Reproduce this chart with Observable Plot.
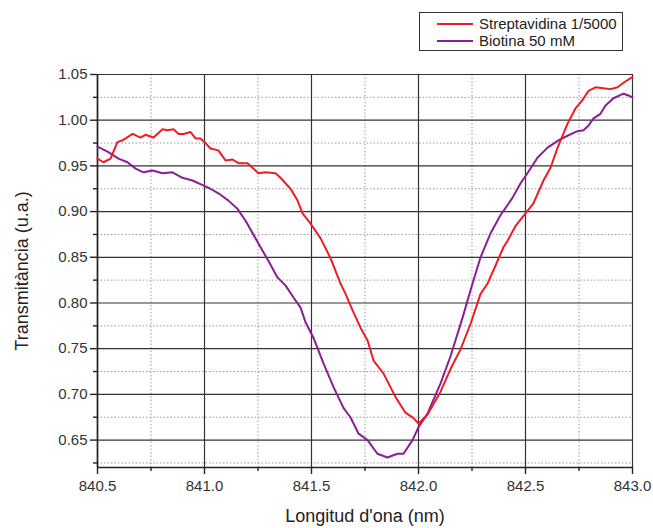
<!DOCTYPE html>
<html>
<head>
<meta charset="utf-8">
<script src="https://cdn.jsdelivr.net/npm/d3@7"></script>
<script src="https://cdn.jsdelivr.net/npm/@observablehq/plot@0.6"></script>
<style>
  html, body { margin: 0; padding: 0; background: #fff; }
  #wrap { position: relative; width: 653px; height: 528px; font-family: "Liberation Sans", Arial, sans-serif; }
  #legend { position: absolute; left: 419px; top: 12px; width: 204px; height: 39px; border: 1px solid #333; background: #fff; box-sizing: border-box; }
  .item { position: absolute; left: 17px; font-size: 15px; color: #222; line-height: 16px; display: flex; align-items: center; }
  .sw { display: inline-block; width: 36px; height: 2px; margin-right: 6px; }
</style>
</head>
<body>
<div id="wrap"></div>
<script>
// Series names
const seriesNames = ["Streptavidina 1/5000", "Biotina 50 mM"];
const seriesColors = ["#ee1c25", "#8b1d96"];

// Streptavidina 1/5000 (red)
const strepX = [840.500,840.528,840.561,840.593,840.617,840.664,840.701,840.724,840.762,840.804,840.827,840.855,840.879,840.902,840.935,840.958,840.981,841.005,841.028,841.065,841.098,841.131,841.159,841.201,841.224,841.252,841.285,841.332,841.355,841.402,841.435,841.458,841.495,841.542,841.589,841.636,841.659,841.692,841.729,841.762,841.790,841.836,841.893,841.939,841.977,842.000,842.042,842.103,842.150,842.196,842.243,842.290,842.322,842.360,842.397,842.416,842.453,842.500,842.537,842.584,842.617,842.650,842.696,842.734,842.766,842.794,842.827,842.864,842.897,842.930,842.958,842.991,843.000];
const strepY = [0.958,0.954,0.958,0.976,0.978,0.985,0.981,0.984,0.981,0.990,0.989,0.990,0.985,0.985,0.987,0.980,0.980,0.975,0.969,0.967,0.956,0.957,0.953,0.953,0.948,0.942,0.943,0.942,0.937,0.925,0.912,0.898,0.887,0.871,0.849,0.821,0.810,0.792,0.773,0.759,0.737,0.723,0.697,0.680,0.674,0.668,0.678,0.703,0.728,0.749,0.777,0.810,0.821,0.841,0.861,0.868,0.884,0.898,0.909,0.934,0.948,0.970,0.996,1.013,1.022,1.032,1.036,1.035,1.034,1.036,1.041,1.046,1.047];

// Biotina 50 mM (purple)
const biotX = [840.500,840.551,840.598,840.640,840.678,840.715,840.757,840.804,840.850,840.897,840.944,840.991,841.028,841.065,841.112,841.154,841.192,841.262,841.299,841.341,841.379,841.416,841.449,841.472,841.509,841.556,841.603,841.650,841.682,841.720,841.762,841.808,841.855,841.902,841.930,841.972,842.000,842.042,842.103,842.150,842.206,842.252,842.290,842.336,842.383,842.439,842.477,842.509,842.556,842.603,842.654,842.696,842.743,842.771,842.794,842.818,842.850,842.874,842.911,842.958,842.981,843.000];
const biotY = [0.971,0.965,0.958,0.954,0.947,0.943,0.945,0.942,0.943,0.937,0.934,0.929,0.925,0.920,0.912,0.903,0.890,0.861,0.846,0.828,0.819,0.806,0.795,0.779,0.762,0.734,0.708,0.685,0.675,0.657,0.650,0.635,0.631,0.635,0.635,0.650,0.664,0.679,0.712,0.742,0.784,0.821,0.850,0.876,0.896,0.915,0.931,0.942,0.959,0.970,0.978,0.983,0.988,0.989,0.994,1.002,1.007,1.016,1.024,1.029,1.027,1.025];

// Ticks
const xTicks = [840.5, 841.0, 841.5, 842.0, 842.5, 843.0];
const xMinor = [840.75, 841.25, 841.75, 842.25, 842.75];
const yTicks = [0.65, 0.70, 0.75, 0.80, 0.85, 0.90, 0.95, 1.00, 1.05];
const yMinor = [0.625, 0.675, 0.725, 0.775, 0.825, 0.875, 0.925, 0.975, 1.025];
const xDomain = [840.5, 843.0];
const yDomain = [0.62, 1.05];

const xLabel = "Longitud d'ona (nm)";
const yLabel = "Transmitància (u.a.)";

const strep = strepX.map((x, i) => ({x, y: strepY[i]}));
const biot = biotX.map((x, i) => ({x, y: biotY[i]}));

const chart = Plot.plot({
  width: 653,
  height: 528,
  marginLeft: 97,
  marginRight: 21,
  marginTop: 74,
  marginBottom: 61,
  style: {fontFamily: "'Liberation Sans', Arial, sans-serif", background: "#fff"},
  x: {domain: xDomain},
  y: {domain: yDomain},
  marks: [
    Plot.gridX(xMinor, {stroke: "#9a9a9a", strokeOpacity: 1, strokeDasharray: "1.5,2", strokeWidth: 1}),
    Plot.gridY(yMinor, {stroke: "#9a9a9a", strokeOpacity: 1, strokeDasharray: "1.5,2", strokeWidth: 1}),
    Plot.gridX(xTicks, {stroke: "#333", strokeOpacity: 1, strokeWidth: 1.2}),
    Plot.gridY(yTicks, {stroke: "#333", strokeOpacity: 1, strokeWidth: 1.2}),
    Plot.ruleX([xDomain[0]], {stroke: "#222", strokeWidth: 1.6}),
    Plot.ruleY([yDomain[0]], {stroke: "#222", strokeWidth: 1.6}),
    Plot.axisX(xTicks, {tickSize: 7, tickFormat: d3.format(".1f"), fontSize: 15, fill: "#333", tickPadding: 6, label: null, stroke: "#222", strokeWidth: 1.4}),
    Plot.axisX(xMinor, {tickSize: 4, tickFormat: () => "", label: null, stroke: "#222", strokeWidth: 1.4}),
    Plot.axisY(yTicks, {tickSize: 7, tickFormat: d3.format(".2f"), fontSize: 15, fill: "#333", tickPadding: 3, label: null, stroke: "#222", strokeWidth: 1.4}),
    Plot.axisY(yMinor, {tickSize: 4, tickFormat: () => "", label: null, stroke: "#222", strokeWidth: 1.4}),
    Plot.line(biot, {x: "x", y: "y", stroke: seriesColors[1], strokeWidth: 2}),
    Plot.line(strep, {x: "x", y: "y", stroke: seriesColors[0], strokeWidth: 2}),
    Plot.text([xLabel], {frameAnchor: "bottom", dy: 49, lineAnchor: "middle", textAnchor: "middle", fontSize: 18, fill: "#222"}),
    Plot.text([yLabel], {frameAnchor: "left", dx: -75, rotate: -90, textAnchor: "middle", lineAnchor: "middle", fontSize: 18, fill: "#222"})
  ]
});

const wrap = document.getElementById("wrap");
wrap.appendChild(chart);

const legend = document.createElement("div");
legend.id = "legend";
seriesNames.forEach((name, i) => {
  const it = document.createElement("div");
  it.className = "item";
  it.style.top = (i === 0 ? 3 : 20) + "px";
  const sw = document.createElement("span");
  sw.className = "sw";
  sw.style.background = seriesColors[i];
  it.appendChild(sw);
  it.appendChild(document.createTextNode(name));
  legend.appendChild(it);
});
wrap.appendChild(legend);
</script>
</body>
</html>
